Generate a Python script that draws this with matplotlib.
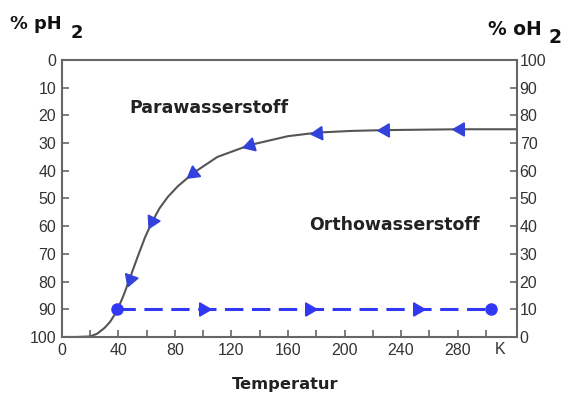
import numpy as np
import matplotlib.pyplot as plt
from matplotlib.markers import MarkerStyle

plt.rcParams['font.family'] = ['Liberation Sans', 'DejaVu Sans']

# equilibrium para fraction (T in K, % pH2)
temp = [0, 10, 20, 25, 30, 34, 39, 44, 49, 54, 59, 64, 69, 75, 82, 93,
        110, 133, 160, 181, 205, 229, 282, 322]
para = [100, 100, 99.8, 98.8, 96.8, 94.6, 90.6, 84.5, 77.5, 70.5, 63.8,
        58.3, 53.6, 49.4, 45.6, 40.8, 35, 30.7, 27.5, 26.2, 25.6, 25.3, 25, 25]

# arrows along the equilibrium curve
curve_arrow_T = [48, 64, 93, 133, 181, 229, 282]

# quenched (non-equilibrium) line
quench_T = [39, 304]
quench_para = 90
quench_arrow_T = [100, 175, 251]

xticks = list(range(0, 301, 20))
xlabels = [str(t) if t % 40 == 0 and t <= 280 else '' for t in xticks]
yticks = list(range(0, 101, 10))

TRI = '#3342da'
DASH = '#3038f4'
GREY = '#666666'
TXT = '#333333'
LBL = ['DejaVu Sans']

fig = plt.figure(figsize=(5.68, 3.94), dpi=100)
ax = fig.add_axes([0.109, 0.1447, 0.801, 0.703])
ax.set_xlim(0, 322)
ax.set_ylim(100, 0)

ax.plot(temp, para, color='#555555', lw=1.5, zorder=2)

ax.plot(quench_T, [quench_para] * 2, color=DASH, lw=2.2, dashes=(6, 2.8), zorder=3)
ax.plot(quench_T, [quench_para] * 2, 'o', color=DASH, ms=8, zorder=4)

fig.canvas.draw()
# orient each triangle along the curve in screen space (pointing to lower T)
for t in curve_arrow_T:
    p0 = ax.transData.transform((t + 2, np.interp(t + 2, temp, para)))
    p1 = ax.transData.transform((t - 2, np.interp(t - 2, temp, para)))
    ang = np.degrees(np.arctan2(p1[1] - p0[1], p1[0] - p0[0]))
    ax.plot([t], [np.interp(t, temp, para)], linestyle='none',
            marker=MarkerStyle((3, 0, ang - 90)), color=TRI, ms=11, zorder=5)
for t in quench_arrow_T:
    ax.plot([t], [quench_para], linestyle='none',
            marker=MarkerStyle((3, 0, -90)), color=DASH, ms=11, zorder=5)

for s in ax.spines.values():
    s.set_color(GREY)
    s.set_linewidth(1.5)

ax.set_xticks(xticks)
ax.set_xticklabels(xlabels)
ax.set_yticks(yticks)
ax.tick_params(direction='in', length=5, width=1.2, color=GREY,
               labelsize=11.5, labelcolor=TXT, pad=4)

ax2 = ax.twinx()
ax2.set_ylim(0, 100)
ax2.set_yticks(yticks)
ax2.tick_params(direction='in', length=5, width=1.2, color=GREY,
                labelsize=11.5, labelcolor=TXT, pad=2)
for s in ax2.spines.values():
    s.set_visible(False)

ax.text(310, 101.7, 'K', ha='center', va='top', fontsize=11.5, color=TXT)

fig.text(10 / 568, 1 - 29 / 394, '% pH', fontsize=12.8, fontweight='bold',
         family=LBL, ha='left', va='baseline', color='#111111')
fig.text(71 / 568, 1 - 38 / 394, '2', fontsize=12.8, fontweight='bold',
         family=LBL, ha='left', va='baseline', color='#111111')
fig.text(488 / 568, 1 - 35 / 394, '% oH', fontsize=13.5, fontweight='bold',
         family=LBL, ha='left', va='baseline', color='#111111')
fig.text(549 / 568, 1 - 43 / 394, '2', fontsize=13.5, fontweight='bold',
         family=LBL, ha='left', va='baseline', color='#111111')

fig.text(209 / 568, 1 - 108 / 394, 'Parawasserstoff', fontsize=12.5,
         fontweight='bold', family=LBL, ha='center', va='center', color='#222222')
fig.text(394 / 568, 1 - 225 / 394, 'Orthowasserstoff', fontsize=12.5,
         fontweight='bold', family=LBL, ha='center', va='center', color='#222222')
fig.text(285 / 568, 1 - 385 / 394, 'Temperatur', fontsize=11.7,
         fontweight='bold', family=LBL, ha='center', va='center', color='#222222')

fig.savefig('out.png', dpi=100)
